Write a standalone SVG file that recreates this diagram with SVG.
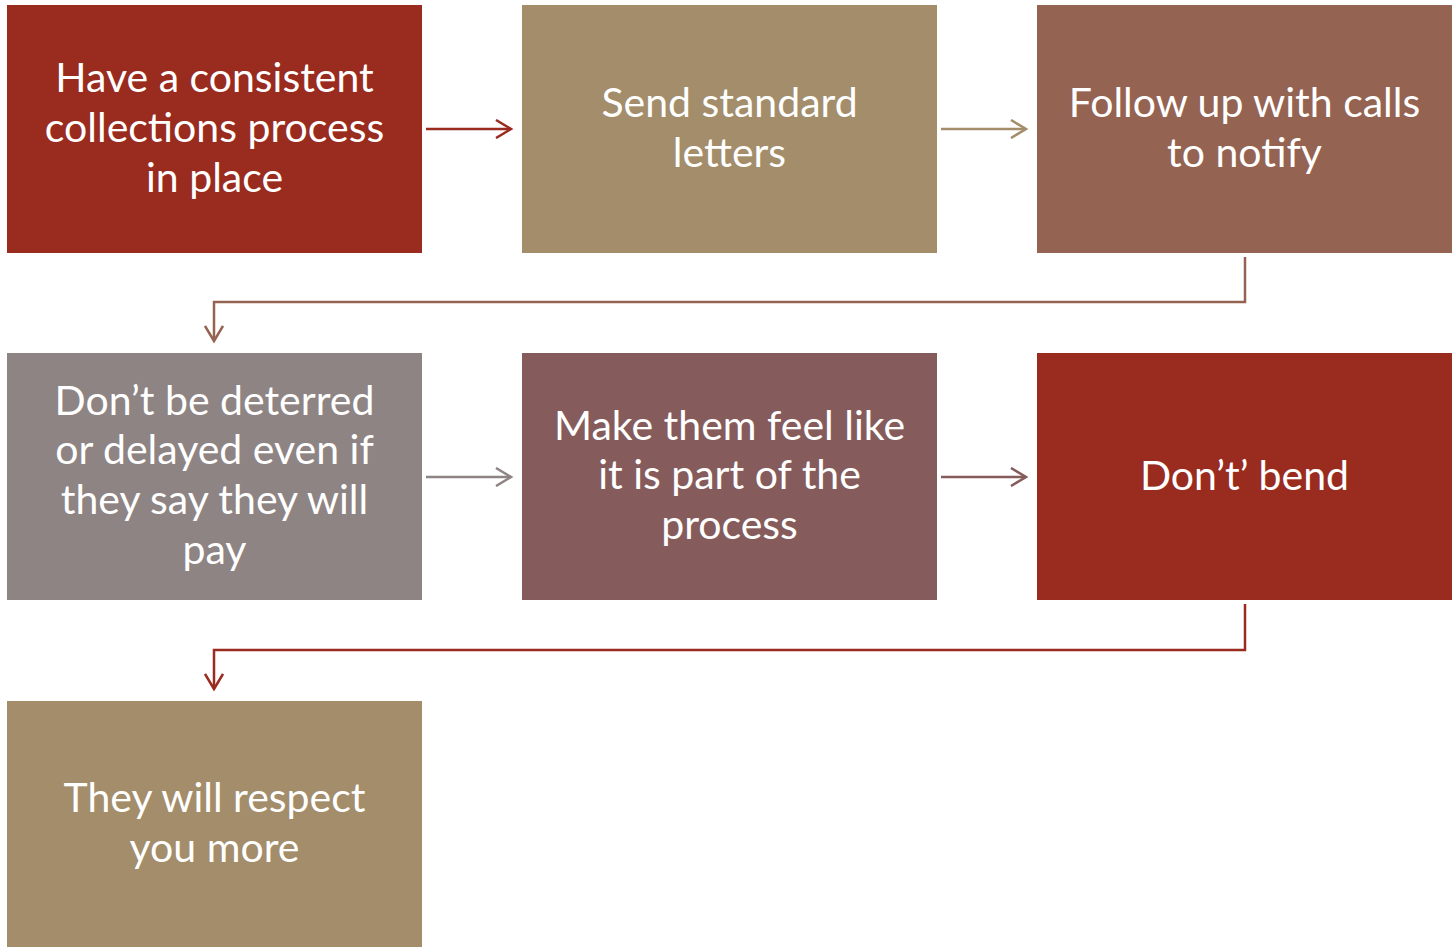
<svg xmlns="http://www.w3.org/2000/svg" width="1453" height="947" viewBox="0 0 1453 947">
<style>
text{font-family:Lato,"Open Sans",sans-serif;font-size:41px;fill:#fff;text-anchor:middle}
.c{fill:none;stroke-width:2.5}
</style>
<defs>
<marker id="mr" markerWidth="20" markerHeight="20" refX="17" refY="10" orient="auto" markerUnits="userSpaceOnUse"><path d="M2,1 L17,10 L2,19" fill="none" stroke="#9A2B1F" stroke-width="2.5"/></marker>
<marker id="mt" markerWidth="20" markerHeight="20" refX="17" refY="10" orient="auto" markerUnits="userSpaceOnUse"><path d="M2,1 L17,10 L2,19" fill="none" stroke="#A38D6A" stroke-width="2.5"/></marker>
<marker id="mb" markerWidth="20" markerHeight="20" refX="17" refY="10" orient="auto" markerUnits="userSpaceOnUse"><path d="M2,1 L17,10 L2,19" fill="none" stroke="#956352" stroke-width="2.5"/></marker>
<marker id="mg" markerWidth="20" markerHeight="20" refX="17" refY="10" orient="auto" markerUnits="userSpaceOnUse"><path d="M2,1 L17,10 L2,19" fill="none" stroke="#8E8483" stroke-width="2.5"/></marker>
<marker id="mp" markerWidth="20" markerHeight="20" refX="17" refY="10" orient="auto" markerUnits="userSpaceOnUse"><path d="M2,1 L17,10 L2,19" fill="none" stroke="#855C5B" stroke-width="2.5"/></marker>
</defs>
<g id="connectors">
<path class="c" stroke="#9A2B1F" d="M426,129 H511" marker-end="url(#mr)"/>
<path class="c" stroke="#A38D6A" d="M941,129 H1026" marker-end="url(#mt)"/>
<path class="c" stroke="#956352" d="M1245,257 V302 H214 V341" marker-end="url(#mb)"/>
<path class="c" stroke="#8E8483" d="M426,477 H511" marker-end="url(#mg)"/>
<path class="c" stroke="#855C5B" d="M941,477 H1026" marker-end="url(#mp)"/>
<path class="c" stroke="#9A2B1F" d="M1245,604 V650 H214 V689" marker-end="url(#mr)"/>
</g>
<g id="n1"><rect x="7" y="5" width="415" height="248" fill="#9A2B1F"/><text x="214.5" y="92">Have a consistent</text><text x="214.5" y="142">collections process</text><text x="214.5" y="192">in place</text></g>
<g id="n2"><rect x="522" y="5" width="415" height="248" fill="#A38D6A"/><text x="729.5" y="117">Send standard</text><text x="729.5" y="167">letters</text></g>
<g id="n3"><rect x="1037" y="5" width="415" height="248" fill="#956352"/><text x="1244.5" y="117">Follow up with calls</text><text x="1244.5" y="167">to notify</text></g>
<g id="n4"><rect x="7" y="353" width="415" height="247" fill="#8E8483"/><text x="214.5" y="415">Don’t be deterred</text><text x="214.5" y="464">or delayed even if</text><text x="214.5" y="514">they say they will</text><text x="214.5" y="564">pay</text></g>
<g id="n5"><rect x="522" y="353" width="415" height="247" fill="#855C5B"/><text x="729.5" y="440">Make them feel like</text><text x="729.5" y="489">it is part of the</text><text x="729.5" y="539">process</text></g>
<g id="n6"><rect x="1037" y="353" width="415" height="247" fill="#9A2B1F"/><text x="1244.5" y="490">Don’t’ bend</text></g>
<g id="n7"><rect x="7" y="701" width="415" height="246" fill="#A38D6A"/><text x="214.5" y="812">They will respect</text><text x="214.5" y="862">you more</text></g>
</svg>
